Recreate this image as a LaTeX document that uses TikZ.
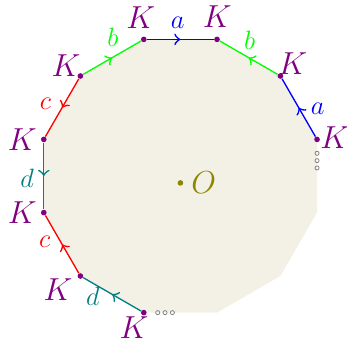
\documentclass[tikz,border=0pt]{standalone}
\usepackage{xcolor}
\definecolor{Kpurple}{HTML}{800080}
\definecolor{faceBeige}{HTML}{F3F1E6}
\usetikzlibrary{positioning, calc, decorations.markings}

\begin{document}
\begin{tikzpicture}[
  vdot/.style={circle, fill=Kpurple, inner sep=0pt, minimum size=0.09cm},
  klbl/.style={text=Kpurple, font=\Large},
  elbl/.style={font=\fontsize{13}{15}\selectfont},
  ghost/.style={circle, draw=gray, line width=0.35pt, inner sep=0pt,
    minimum size=0.065cm},
  side/.style={line width=0.6pt},
  midarrow/.style={side, postaction={decorate},
    decoration={markings, mark=at position 0.5 with {\arrow[scale=1.25]{>}}}}
]
\useasboundingbox (-2.87,-2.64) rectangle (2.65,2.80);

% ── corners of the 12-gon ────────────────────────────────────
\foreach \a [count=\i] in {105,75,45,15,-15,-45,-75,-105,-135,-165,165,135}{
  \coordinate (p\i) at (\a:2.25);
}
\fill[faceBeige] (p1) -- (p2) -- (p3) -- (p4) -- (p5) -- (p6) -- (p7)
  -- (p8) -- (p9) -- (p10) -- (p11) -- (p12) -- cycle;

% ── vertices ─────────────────────────────────────────────────
\node[vdot] (v1) at (p1) {};
\node[vdot] (v2) at (p2) {};
\node[vdot] (v3) at (p3) {};
\node[vdot] (v4) at (p4) {};
\node[vdot] (v8) at (p8) {};
\node[vdot] (v9) at (p9) {};
\node[vdot] (v10) at (p10) {};
\node[vdot] (v11) at (p11) {};
\node[vdot] (v12) at (p12) {};

\node[klbl] (k1) at (104:2.6) {$K$};
\node[klbl] (k2) at (77:2.6) {$K$};
\node[klbl] (k3) at (45:2.53) {$K$};
\node[klbl] (k4) at (14:2.53) {$K$};
\node[klbl] (k8) at (-107:2.53) {$K$};
\node[klbl] (k9) at (-137:2.66) {$K$};
\node[klbl] (k10) at (-167:2.58) {$K$};
\node[klbl] (k11) at (167:2.58) {$K$};
\node[klbl] (k12) at (136:2.53) {$K$};

% ── edges ────────────────────────────────────────────────────
\draw[blue, midarrow] (v1) -- (v2);
\draw[green, midarrow] (v3) -- (v2);
\draw[blue, midarrow] (v4) -- (v3);
\draw[green, midarrow] (v12) -- (v1);
\draw[red, midarrow] (v12) -- (v11);
\draw[teal, midarrow] (v11) -- (v10);
\draw[red, midarrow] (v9) -- (v10);
\draw[teal, midarrow] (v8) -- (v9);

\node[elbl, blue] (la1) at (91:2.44) {$a$};
\node[elbl, green] (lb1) at (63:2.43) {$b$};
\node[elbl, blue] (la2) at (26:2.43) {$a$};
\node[elbl, green] (lb2) at (116:2.45) {$b$};
\node[elbl, red] (lc1) at (152:2.43) {$c$};
\node[elbl, teal] (ld1) at (181:2.44) {$d$};
\node[elbl, red] (lc2) at (-154:2.4) {$c$};
\node[elbl, teal] (ld2) at (-126:2.37) {$d$};

% ── the rest of the boundary ─────────────────────────────────
\foreach \t [count=\j] in {0.19,0.29,0.39}{
  \node[ghost] (r\j) at ($(p4)!\t!(p5)$) {};
  \node[ghost] (s\j) at ($(p8)!\t!(p7)$) {};
}

% ── centre ───────────────────────────────────────────────────
\node[circle, fill=olive, inner sep=0pt, minimum size=0.09cm] (o) at (0,-0.11) {};
\node[font=\Large, text=olive, right=0pt of o] (ol) {$O$};

\end{tikzpicture}
\end{document}
